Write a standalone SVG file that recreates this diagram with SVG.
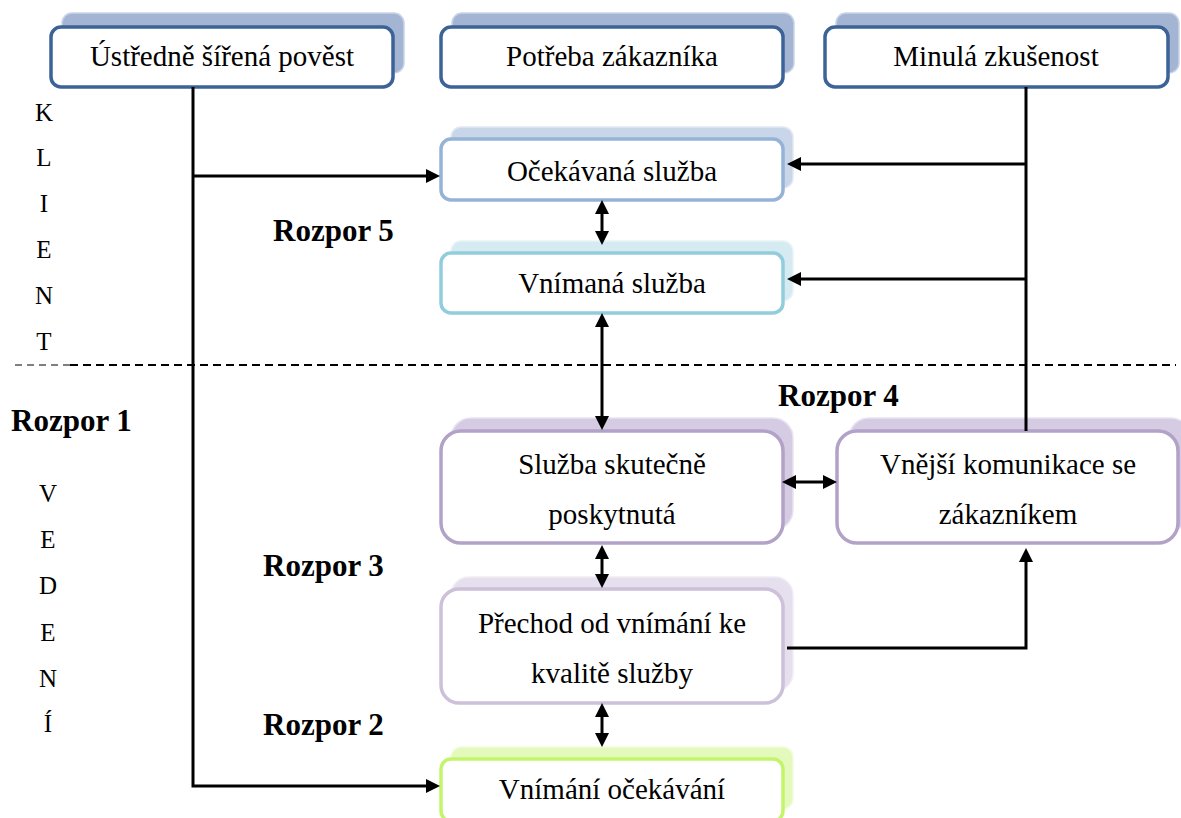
<svg xmlns="http://www.w3.org/2000/svg" width="1181" height="818" viewBox="0 0 1181 818">
<defs>
<style>
text{font-family:"Liberation Serif","Times New Roman",serif;fill:#000}
.t{font-size:29px;text-anchor:middle}
.side{font-size:25px;text-anchor:middle}
.gap{font-size:31px;font-weight:bold}
.front{fill:#fff;stroke-width:3.5}
.sh{stroke-width:1.5}
.c{fill:none;stroke:#000;stroke-width:3}
</style>
<marker id="ah" viewBox="0 0 14 14" refX="10" refY="7" markerWidth="14" markerHeight="14" markerUnits="userSpaceOnUse" orient="auto-start-reverse">
<path d="M0,0 L14,7 L0,14 z" fill="#000"/>
</marker>
</defs>
<rect width="1181" height="818" fill="#fff"/>

<g id="side-labels">
<text class="side" x="44" y="121">K</text>
<text class="side" x="44" y="166">L</text>
<text class="side" x="44" y="212">I</text>
<text class="side" x="44" y="258">E</text>
<text class="side" x="44" y="304">N</text>
<text class="side" x="44" y="350">T</text>
<text class="side" x="48" y="502">V</text>
<text class="side" x="48" y="548">E</text>
<text class="side" x="48" y="594">D</text>
<text class="side" x="48" y="641">E</text>
<text class="side" x="48" y="687">N</text>
<text class="side" x="48" y="732">Í</text>
</g>

<g id="divider">
<line x1="15" y1="365" x2="70" y2="365" stroke="#000" stroke-width="1" stroke-dasharray="7,5"/>
<line x1="70" y1="365" x2="1176" y2="365" stroke="#000" stroke-width="1.8" stroke-dasharray="8,5"/>
</g>

<g id="gap-labels">
<text class="gap" x="273" y="241">Rozpor 5</text>
<text class="gap" x="11" y="431">Rozpor 1</text>
<text class="gap" x="778" y="406">Rozpor 4</text>
<text class="gap" x="263" y="576">Rozpor 3</text>
<text class="gap" x="263" y="735">Rozpor 2</text>
</g>

<g id="n-ustredne">
<rect class="sh" x="62" y="13" width="342" height="60" rx="10" fill="#a4b5d3" stroke="#c8d3e7"/>
<rect class="front" x="51" y="27" width="342" height="60" rx="10" stroke="#3c6397"/>
<text class="t" x="222" y="66">Ústředně šířená pověst</text>
</g>
<g id="n-potreba">
<rect class="sh" x="452" y="13" width="342" height="60" rx="10" fill="#a4b5d3" stroke="#c8d3e7"/>
<rect class="front" x="441" y="27" width="342" height="60" rx="10" stroke="#3c6397"/>
<text class="t" x="612" y="66">Potřeba zákazníka</text>
</g>
<g id="n-minula">
<rect class="sh" x="836" y="13" width="343" height="60" rx="10" fill="#a4b5d3" stroke="#c8d3e7"/>
<rect class="front" x="825" y="27" width="343" height="60" rx="10" stroke="#3c6397"/>
<text class="t" x="996" y="66">Minulá zkušenost</text>
</g>

<g id="n-ocekavana">
<rect class="sh" x="451" y="127" width="342" height="61" rx="10" fill="#c9d6ea" stroke="#e1e8f3"/>
<rect class="front" x="441" y="139" width="342" height="61" rx="10" stroke="#95b3d7"/>
<text class="t" x="612" y="181">Očekávaná služba</text>
</g>
<g id="n-vnimana">
<rect class="sh" x="451" y="241" width="342" height="60" rx="10" fill="#d5ebf1" stroke="#e8f4f7"/>
<rect class="front" x="441" y="253" width="342" height="60" rx="10" stroke="#92cddc"/>
<text class="t" x="612" y="293">Vnímaná služba</text>
</g>

<g id="n-sluzba">
<rect class="sh" x="451" y="418" width="342" height="112" rx="20" fill="#d5cbe3" stroke="#e9e3f1"/>
<rect class="front" x="441" y="431" width="342" height="112" rx="20" stroke="#b2a2c7"/>
<text class="t" x="612" y="474">Služba skutečně</text>
<text class="t" x="612" y="524">poskytnutá</text>
</g>
<g id="n-vnejsi">
<rect class="sh" x="849" y="418" width="342" height="112" rx="20" fill="#d5cbe3" stroke="#e9e3f1"/>
<rect class="front" x="837" y="431" width="341" height="112" rx="20" stroke="#b2a2c7"/>
<text class="t" x="1008" y="474">Vnější komunikace se</text>
<text class="t" x="1008" y="524">zákazníkem</text>
</g>

<g id="n-prechod">
<rect class="sh" x="451" y="577" width="342" height="114" rx="18" fill="#e5dfee" stroke="#f1edf6"/>
<rect class="front" x="441" y="589" width="342" height="114" rx="18" stroke="#ccc0da"/>
<text class="t" x="612" y="633">Přechod od vnímání ke</text>
<text class="t" x="612" y="683">kvalitě služby</text>
</g>

<g id="n-vnimani-ocekavani">
<rect class="sh" x="451" y="747" width="342" height="62" rx="10" fill="#e4fabc" stroke="#f1fddc"/>
<rect class="front" x="441" y="759" width="342" height="62" rx="10" stroke="#c3f56b"/>
<text class="t" x="612" y="799">Vnímání očekávání</text>
</g>

<g id="connectors">
<path class="c" d="M193,87 V786 H436" marker-end="url(#ah)"/>
<path class="c" d="M193,176 H436" marker-end="url(#ah)"/>
<path class="c" d="M1026,87 V431"/>
<path class="c" d="M1026,164 H791" marker-end="url(#ah)"/>
<path class="c" d="M1026,279 H791" marker-end="url(#ah)"/>
<path class="c" d="M602,204 V241" marker-start="url(#ah)" marker-end="url(#ah)"/>
<path class="c" d="M602,317 V426" marker-start="url(#ah)" marker-end="url(#ah)"/>
<path class="c" d="M602,549 V584" marker-start="url(#ah)" marker-end="url(#ah)"/>
<path class="c" d="M602,707 V743" marker-start="url(#ah)" marker-end="url(#ah)"/>
<path class="c" d="M786,482 H833" marker-start="url(#ah)" marker-end="url(#ah)"/>
<path class="c" d="M787,648 H1026 V552" marker-end="url(#ah)"/>
</g>
</svg>
